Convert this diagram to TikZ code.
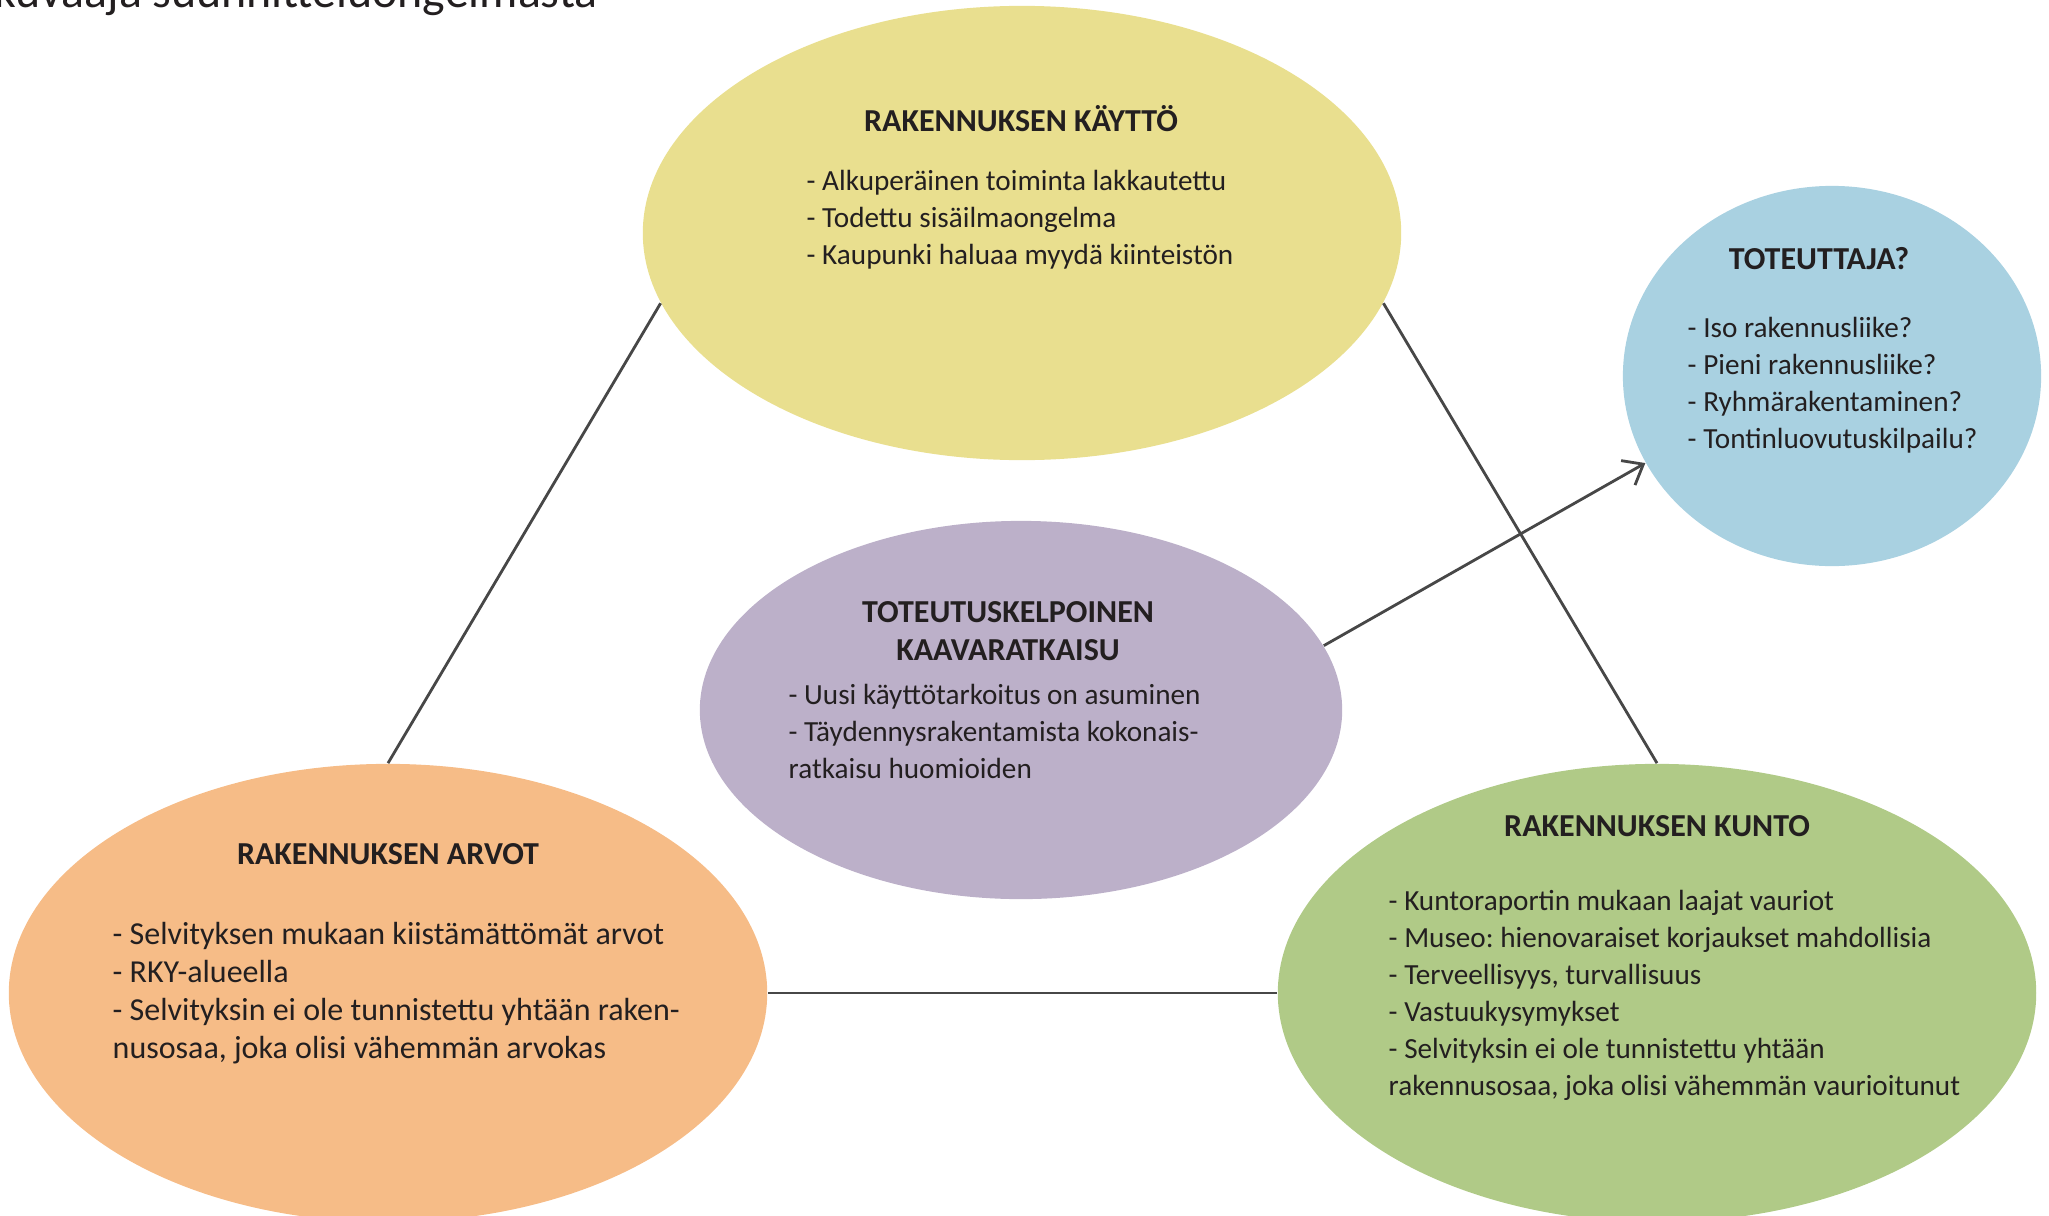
\documentclass[tikz,border=0pt]{standalone}
\usepackage{fontspec}
\setmainfont{Carlito}
\usetikzlibrary{shapes.geometric,arrows.meta}
\definecolor{kaytto}{HTML}{E9DF8F}
\definecolor{toteuttaja}{HTML}{A9D1E1}
\definecolor{kaava}{HTML}{BCB0C9}
\definecolor{arvot}{HTML}{F6BC87}
\definecolor{kunto}{HTML}{B0CA87}
\definecolor{teksti}{HTML}{231F20}
\definecolor{viivac}{HTML}{474747}
\frenchspacing
\begin{document}
\begin{tikzpicture}[x=.01cm, y=-.01cm,
	kupla/.style={ellipse, draw=none, inner sep=0pt},
	otsikko/.style={font=\fontsize{9.1}{11}\selectfont\bfseries, text=teksti, inner sep=0pt, anchor=base},
	lista/.style={font=\fontsize{8.3}{10.6}\selectfont, text=teksti, inner sep=0pt, anchor=base west},
	isolista/.style={lista, font=\fontsize{9.1}{11}\selectfont},
	viiva/.style={draw=viivac, line width=.8pt}]
	\useasboundingbox (0,0) rectangle (2049,1215);
	\clip (0,0) rectangle (2049,1215);
	\node[font=\fontsize{13.6}{16}\selectfont, text=teksti, anchor=base west, inner sep=0pt] (otsake) at (-6,8) {kuvaaja suunnitteluongelmasta};
	%kuplat
	\node[kupla, fill=kaytto,     minimum width=7.58cm, minimum height=4.54cm] (kaytto)     at (1022,233) {};
	\node[kupla, fill=toteuttaja, minimum width=4.18cm, minimum height=3.80cm] (toteuttaja) at (1832,376) {};
	\node[kupla, fill=kaava,      minimum width=6.42cm, minimum height=3.78cm] (kaava)      at (1021,710) {};
	\node[kupla, fill=arvot,      minimum width=7.58cm, minimum height=4.58cm] (arvot)      at (388,993)  {};
	\node[kupla, fill=kunto,      minimum width=7.58cm, minimum height=4.58cm] (kunto)      at (1657,993) {};
	%viivat
	\draw[viiva] (kaytto.191) -- (arvot.north);
	\draw[viiva] (kaytto.-11) -- (kunto.north);
	\draw[viiva] (arvot.east) -- (kunto.west);
	\draw[viiva, -{Straight Barb[length=5pt, width=8pt]}] (kaava.12) -- (toteuttaja.205);
	%tekstit
	\node[otsikko] (kayttoOts) at (1021,131) {RAKENNUKSEN KÄYTTÖ};
	\node[lista] (kaytto1) at (806,190) {- Alkuperäinen toiminta lakkautettu};
	\node[lista] (kaytto2) at (806,227) {- Todettu sisäilmaongelma};
	\node[lista] (kaytto3) at (806,264) {- Kaupunki haluaa myydä kiinteistön};
	\node[otsikko] (toteuttajaOts) at (1819,269) {TOTEUTTAJA?};
	\node[lista] (toteuttaja1) at (1687,337) {- Iso rakennusliike?};
	\node[lista] (toteuttaja2) at (1687,374) {- Pieni rakennusliike?};
	\node[lista] (toteuttaja3) at (1687,411) {- Ryhmärakentaminen?};
	\node[lista] (toteuttaja4) at (1687,448) {- Tontinluovutuskilpailu?};
	\node[otsikko] (kaavaOts1) at (1008,622) {TOTEUTUSKELPOINEN};
	\node[otsikko] (kaavaOts2) at (1008,660) {KAAVARATKAISU};
	\node[lista] (kaava1) at (788,704) {- Uusi käyttötarkoitus on asuminen};
	\node[lista] (kaava2) at (788,741) {- Täydennysrakentamista kokonais-};
	\node[lista] (kaava3) at (788,778) {ratkaisu huomioiden};
	\node[otsikko] (arvotOts) at (388,864) {RAKENNUKSEN ARVOT};
	\node[isolista] (arvot1) at (112,944) {- Selvityksen mukaan kiistämättömät arvot};
	\node[isolista] (arvot2) at (112,982) {- RKY-alueella};
	\node[isolista] (arvot3) at (112,1020) {- Selvityksin ei ole tunnistettu yhtään raken-};
	\node[isolista] (arvot4) at (112,1058) {nusosaa, joka olisi vähemmän arvokas};
	\node[otsikko] (kuntoOts) at (1657,836) {RAKENNUKSEN KUNTO};
	\node[lista] (kunto1) at (1388,910)  {- Kuntoraportin mukaan laajat vauriot};
	\node[lista] (kunto2) at (1388,947)  {- Museo: hienovaraiset korjaukset mahdollisia};
	\node[lista] (kunto3) at (1388,984)  {- Terveellisyys, turvallisuus};
	\node[lista] (kunto4) at (1388,1021) {- Vastuukysymykset};
	\node[lista] (kunto5) at (1388,1058) {- Selvityksin ei ole tunnistettu yhtään};
	\node[lista] (kunto6) at (1388,1095) {rakennusosaa, joka olisi vähemmän vaurioitunut};
\end{tikzpicture}
\end{document}
